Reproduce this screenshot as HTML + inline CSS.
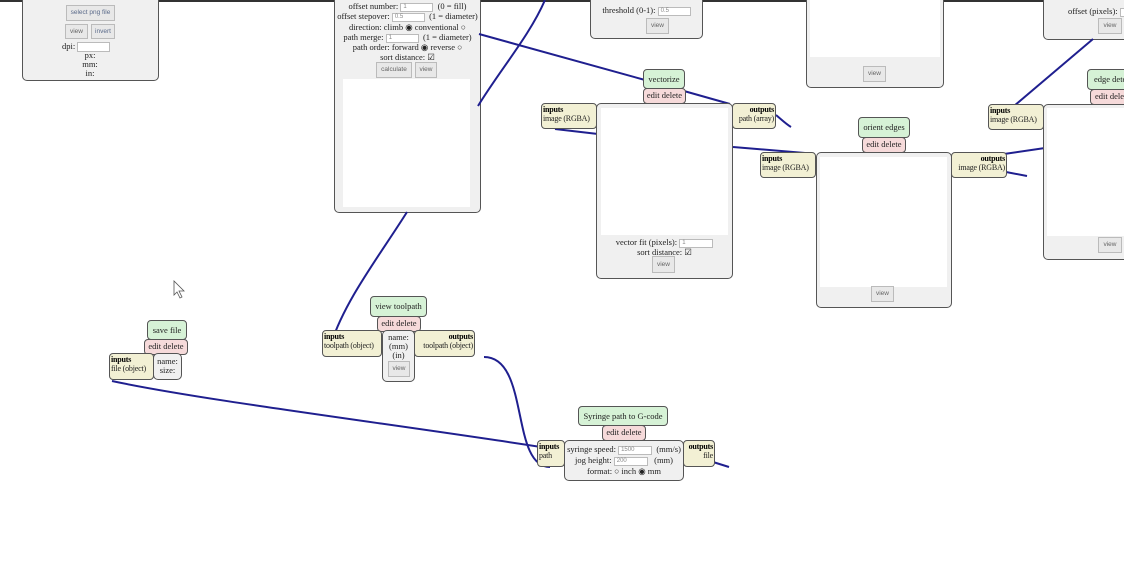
<!DOCTYPE html>
<html><head><meta charset="utf-8"><style>
*{box-sizing:border-box;margin:0;padding:0}
body{width:1124px;height:571px;background:#fff;position:relative;overflow:hidden;font-family:"Liberation Serif",serif;font-size:8.5px;color:#222}
.a{position:absolute}
.box{position:absolute;background:#f0f0f0;border:1px solid #555;border-radius:5px}
.lbl{position:absolute;background:#d6f2d6;border:1px solid #555;border-radius:4px;text-align:center;font-size:8.5px;line-height:18px;white-space:nowrap;overflow:hidden}
.ed{position:absolute;background:#f6dada;border:1px solid #555;border-radius:4px;text-align:center;font-size:8.5px;line-height:13px;white-space:nowrap;overflow:hidden}
.io{position:absolute;background:#f2f0d4;border:1px solid #555;border-radius:4px;font-size:8px;line-height:9px;padding:1px 1px;white-space:nowrap;overflow:hidden;letter-spacing:-0.2px}
.io b{color:#000}
.wh{position:absolute;background:#fff}
.btn{position:absolute;background:#e8e8e8;border:1px solid #bbb;font-family:"Liberation Sans",sans-serif;font-size:6.5px;color:#666;text-align:center}
.inp{display:inline-block;background:#fff;border:1px solid #bbb;height:9px;vertical-align:middle;font-size:6px;color:#888;font-family:"Liberation Sans",sans-serif;line-height:7px;padding-left:2px;text-align:left}
.t{position:absolute;white-space:nowrap;text-align:center;line-height:10px}
</style></head><body>
<div class="a" style="left:0;top:0;width:1124px;height:2px;background:#333"></div>

<!-- top-left box -->
<div class="box" style="left:22px;top:-5px;width:137px;height:86px"></div>
<div class="btn" style="left:66px;top:5px;width:49px;height:16px;line-height:14px;color:#5a6a8a">select png file</div>
<div class="btn" style="left:65px;top:24px;width:23px;height:15px;line-height:13px">view</div>
<div class="btn" style="left:91px;top:24px;width:24px;height:15px;line-height:13px;color:#5a6a8a">invert</div>
<div class="t" style="left:62px;top:41px">dpi: <span class="inp" style="width:33px;height:10px"></span></div>
<div class="t" style="left:80px;top:51px;width:20px;line-height:9px">px:<br>mm:<br>in:</div>

<!-- offset box -->
<div class="box" style="left:334px;top:-5px;width:147px;height:218px"></div>
<div class="t" style="left:334px;top:1px;width:147px">offset number: <span class="inp" style="width:33px">1</span> &nbsp;(0 = fill)</div>
<div class="t" style="left:334px;top:11px;width:147px">offset stepover: <span class="inp" style="width:33px">0.5</span> &nbsp;(1 = diameter)</div>
<div class="t" style="left:334px;top:22px;width:147px">direction: climb ◉ conventional ○</div>
<div class="t" style="left:334px;top:32px;width:147px">path merge: <span class="inp" style="width:33px">1</span> &nbsp;(1 = diameter)</div>
<div class="t" style="left:334px;top:42px;width:147px">path order: forward ◉ reverse ○</div>
<div class="t" style="left:334px;top:52px;width:147px">sort distance: ☑</div>
<div class="btn" style="left:376px;top:62px;width:36px;height:16px;line-height:14px">calculate</div>
<div class="btn" style="left:415px;top:62px;width:22px;height:16px;line-height:14px">view</div>
<div class="wh" style="left:343px;top:79px;width:127px;height:128px"></div>

<!-- threshold box -->
<div class="box" style="left:590px;top:-5px;width:113px;height:44px"></div>
<div class="t" style="left:590px;top:5px;width:113px">threshold (0-1): <span class="inp" style="width:33px">0.5</span></div>
<div class="btn" style="left:646px;top:18px;width:23px;height:16px;line-height:14px">view</div>

<!-- box 806 -->
<div class="box" style="left:806px;top:-5px;width:138px;height:93px"></div>
<div class="wh" style="left:810px;top:0;width:130px;height:57px"></div>
<div class="btn" style="left:863px;top:66px;width:23px;height:16px;line-height:14px">view</div>

<!-- top right box -->
<div class="box" style="left:1043px;top:-5px;width:90px;height:45px"></div>
<div class="t" style="left:1068px;top:6px">offset (pixels): <span class="inp" style="width:10px"></span></div>
<div class="btn" style="left:1098px;top:18px;width:24px;height:16px;line-height:14px">view</div>

<!-- connectors -->
<svg class="a" style="left:0;top:0" width="1124" height="571">
<g fill="none" stroke="#1f1f8f" stroke-width="2">
<path d="M545,0 C530,35 500,70 478,106"/>
<path d="M407,212 C380,255 345,300 331,344"/>
<path d="M479,34 L645,80 L730,104"/>
<path d="M776,115 C782,120 786,124 791,127"/>
<path d="M555,129 L598,134"/>
<path d="M733,147 L805,153"/>
<path d="M1006,172 L1027,176"/>
<path d="M1004,154 L1045,148"/>
<path d="M1014,106 L1093,39"/>
<path d="M112,381 C200,400 400,425 541,447"/>
<path d="M484,357 C530,357 510,467 550,467"/>
<path d="M713,462 L729,467"/>
</g>
<path d="M174,281 L174,295 L177,292 L180,298 L182,297 L179,291 L184,291 Z" fill="#fff" stroke="#555" stroke-width="0.8"/>
</svg>

<!-- vectorize -->
<div class="lbl" style="left:643px;top:69px;width:42px;height:20px">vectorize</div>
<div class="ed" style="left:643px;top:88px;width:43px;height:16px">edit delete</div>
<div class="box" style="left:596px;top:103px;width:137px;height:176px"></div>
<div class="wh" style="left:601px;top:108px;width:127px;height:127px"></div>
<div class="t" style="left:596px;top:237px;width:137px">vector fit (pixels): <span class="inp" style="width:34px">1</span></div>
<div class="t" style="left:596px;top:247px;width:137px">sort distance: ☑</div>
<div class="btn" style="left:652px;top:256px;width:23px;height:17px;line-height:15px">view</div>
<div class="io" style="left:541px;top:103px;width:56px;height:26px"><b>inputs</b><br>image (RGBA)</div>
<div class="io" style="left:732px;top:103px;width:44px;height:26px;text-align:right"><b>outputs</b><br>path (array)</div>

<!-- orient edges -->
<div class="lbl" style="left:858px;top:117px;width:52px;height:21px">orient edges</div>
<div class="ed" style="left:862px;top:137px;width:44px;height:16px">edit delete</div>
<div class="box" style="left:816px;top:152px;width:136px;height:156px"></div>
<div class="wh" style="left:820px;top:157px;width:127px;height:130px"></div>
<div class="btn" style="left:871px;top:286px;width:23px;height:16px;line-height:14px">view</div>
<div class="io" style="left:760px;top:152px;width:56px;height:26px"><b>inputs</b><br>image (RGBA)</div>
<div class="io" style="left:951px;top:152px;width:56px;height:26px;text-align:right"><b>outputs</b><br>image (RGBA)</div>

<!-- edge detect -->
<div class="lbl" style="left:1087px;top:69px;width:50px;height:21px;text-align:left;padding-left:6px">edge detect</div>
<div class="ed" style="left:1090px;top:89px;width:45px;height:16px;text-align:left;padding-left:4px">edit delete</div>
<div class="box" style="left:1043px;top:104px;width:90px;height:156px"></div>
<div class="wh" style="left:1047px;top:108px;width:80px;height:128px"></div>
<div class="btn" style="left:1098px;top:237px;width:24px;height:16px;line-height:14px">view</div>
<div class="io" style="left:988px;top:104px;width:56px;height:26px"><b>inputs</b><br>image (RGBA)</div>

<!-- view toolpath -->
<div class="lbl" style="left:370px;top:296px;width:57px;height:21px">view toolpath</div>
<div class="ed" style="left:377px;top:316px;width:44px;height:16px">edit delete</div>
<div class="box" style="left:382px;top:330px;width:33px;height:52px"></div>
<div class="t" style="left:382px;top:333px;width:33px;line-height:9px">name:<br>(mm)<br>(in)</div>
<div class="btn" style="left:388px;top:361px;width:22px;height:16px;line-height:14px">view</div>
<div class="io" style="left:322px;top:330px;width:60px;height:27px"><b>inputs</b><br>toolpath (object)</div>
<div class="io" style="left:414px;top:330px;width:61px;height:27px;text-align:right"><b>outputs</b><br>toolpath (object)</div>

<!-- save file -->
<div class="lbl" style="left:147px;top:320px;width:40px;height:20px">save file</div>
<div class="ed" style="left:144px;top:339px;width:44px;height:16px">edit delete</div>
<div class="box" style="left:153px;top:353px;width:29px;height:27px"></div>
<div class="t" style="left:153px;top:357px;width:29px;line-height:9px">name:<br>size:</div>
<div class="io" style="left:109px;top:353px;width:45px;height:27px"><b>inputs</b><br>file (object)</div>

<!-- syringe -->
<div class="lbl" style="left:578px;top:406px;width:90px;height:20px">Syringe path to G-code</div>
<div class="ed" style="left:602px;top:425px;width:44px;height:16px">edit delete</div>
<div class="box" style="left:564px;top:440px;width:120px;height:41px"></div>
<div class="t" style="left:564px;top:444px;width:120px">syringe speed: <span class="inp" style="width:34px">1500</span> &nbsp;(mm/s)</div>
<div class="t" style="left:564px;top:455px;width:120px">jog height: <span class="inp" style="width:34px">200</span> &nbsp;&nbsp;(mm)</div>
<div class="t" style="left:564px;top:466px;width:120px">format: ○ inch ◉ mm</div>
<div class="io" style="left:537px;top:440px;width:28px;height:27px"><b>inputs</b><br>path</div>
<div class="io" style="left:683px;top:440px;width:32px;height:27px;text-align:right"><b>outputs</b><br>file</div>
</body></html>
